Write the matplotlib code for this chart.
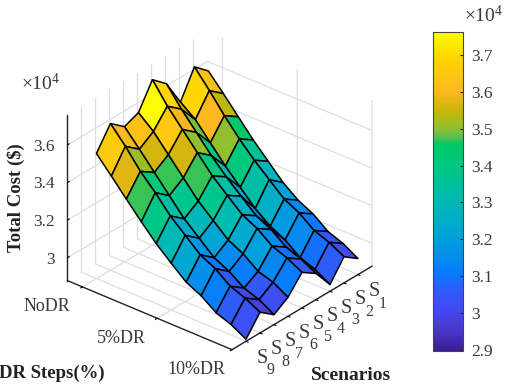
import matplotlib
matplotlib.use('Agg')
import matplotlib.pyplot as plt
import numpy as np
from matplotlib.colors import LinearSegmentedColormap, Normalize
from matplotlib.cm import ScalarMappable
from mpl_toolkits.mplot3d import proj3d

plt.rcParams['font.family'] = ['Liberation Serif', 'DejaVu Serif']
plt.rcParams['mathtext.fontset'] = 'custom'
plt.rcParams['mathtext.rm'] = 'Liberation Serif'
plt.rcParams['mathtext.default'] = 'rm'

scenario_numbers = ['1', '2', '3', '4', '5', '6', '7', '8', '9']
scenario_ticks = [1, 2, 3, 4, 5, 6, 7, 8, 9]
dr_ticks = [1, 6, 11]
dr_labels = ['NoDR', '5%DR', '10%DR']
z_ticks = [3.0, 3.2, 3.4, 3.6]
z_labels = ['3', '3.2', '3.4', '3.6']
cbar_ticks = [2.9, 3.0, 3.1, 3.2, 3.3, 3.4, 3.5, 3.6, 3.7]
cbar_labels = ['2.9', '3', '3.1', '3.2', '3.3', '3.4', '3.5', '3.6', '3.7']

# total cost (x1e4), rows = DR step, columns = S1..S9
cost = np.array([
    [3.627, 3.693, 3.550, 3.692, 3.758, 3.627, 3.597, 3.658, 3.543],
    [3.540, 3.600, 3.490, 3.590, 3.650, 3.560, 3.510, 3.570, 3.456],
    [3.450, 3.500, 3.400, 3.500, 3.560, 3.470, 3.420, 3.470, 3.367],
    [3.360, 3.410, 3.310, 3.410, 3.470, 3.380, 3.330, 3.390, 3.280],
    [3.280, 3.330, 3.230, 3.330, 3.380, 3.290, 3.240, 3.300, 3.197],
    [3.200, 3.260, 3.150, 3.260, 3.310, 3.220, 3.170, 3.230, 3.126],
    [3.140, 3.190, 3.090, 3.190, 3.240, 3.150, 3.100, 3.160, 3.059],
    [3.100, 3.150, 3.050, 3.150, 3.200, 3.110, 3.060, 3.120, 3.020],
    [3.040, 3.090, 2.990, 3.090, 3.140, 3.050, 3.005, 3.060, 2.963],
    [3.010, 3.060, 2.960, 3.060, 3.110, 3.025, 2.977, 3.030, 2.934],
    [2.963, 3.017, 2.914, 3.017, 3.067, 2.979, 2.931, 2.988, 2.889],
])
scenario_idx = np.arange(1, 10)
dr_idx = np.arange(1, 12)

zmin, zmax = 2.878, 3.761
cmin, cmax = 2.897, 3.762

anchors = [(2.897, '#3c1a96'), (2.95, '#4a35c8'), (3.0, '#4646f0'), (3.07, '#2a60fa'),
           (3.1, '#0a78ff'), (3.2, '#00a0dc'), (3.3, '#00b9b4'), (3.4, '#00c882'),
           (3.46, '#00c864'), (3.475, '#50c050'), (3.5, '#90c030'), (3.55, '#c8b40a'),
           (3.6, '#fcb820'), (3.7, '#ffd700'), (3.762, '#ffff00')]
cmap = LinearSegmentedColormap.from_list(
    'cost', [((v - cmin) / (cmax - cmin), c) for v, c in anchors])
norm = Normalize(cmin, cmax)

gray = '#3a3a3a'
fig = plt.figure(figsize=(5.05, 3.84), dpi=100)
ax = fig.add_axes([-0.026, -0.0504, 0.90, 1.08], projection='3d', proj_type='ortho')
ax.view_init(elev=30, azim=40)
ax.set_box_aspect((218, 215, 192), zoom=0.845)

X, Y = np.meshgrid(scenario_idx, dr_idx)
ax.plot_surface(X, Y, cost, facecolors=cmap(norm(cost)), rstride=1, cstride=1,
                shade=False, edgecolor='black', linewidth=1.1, antialiased=True)

ax.set_xlim(0, 10)
ax.set_ylim(0, 11)
ax.set_zlim(zmin, zmax)
ax.set_xticks(scenario_ticks)
ax.set_xticklabels([''] * len(scenario_ticks))
ax.set_yticks(dr_ticks)
ax.set_yticklabels([''] * len(dr_ticks))
ax.set_zticks(z_ticks)
ax.set_zticklabels([''] * len(z_ticks))

for axis in (ax.xaxis, ax.yaxis, ax.zaxis):
    axis.set_pane_color((1, 1, 1, 0))
    axis.pane.set_edgecolor('none')
    axis._axinfo['grid']['color'] = '#dedede'
    axis._axinfo['grid']['linewidth'] = 0.9
    axis._axinfo['tick']['color'] = '#222222'
    axis._axinfo['tick']['inward_factor'] = 0.15
    axis._axinfo['tick']['outward_factor'] = 0.0
    axis.line.set_linewidth(1.0)
    axis.line.set_color('#222222')
ax.zaxis._axinfo['tick']['inward_factor'] = 0.0
ax.zaxis._axinfo['tick']['outward_factor'] = 0.15


def place(labels, points, dx, dy, size, ha='center'):
    # tick labels sit at a fixed pixel offset from the projected tick
    for label, p in zip(labels, points):
        xp, yp, _ = proj3d.proj_transform(*p, ax.get_proj())
        ax.annotate(label, xy=(xp, yp), xytext=(dx, dy), textcoords='offset pixels',
                    fontsize=size, color=gray, ha=ha, va='center')


# the S and its subscript are placed apart, as in the figure
floor_ticks = [(s, 11, zmin) for s in scenario_ticks]
place(['S'] * 9, floor_ticks, 16, -17, 14.5)
place(scenario_numbers, floor_ticks, 25, -29, 11.5)
place(dr_labels, [(10, j, zmin) for j in dr_ticks], -36, -20, 13)
place(z_labels, [(10, 0, z) for z in z_ticks], -13, -2, 12.5, ha='right')

fig.text(16 / 505, 1 - 198 / 384, 'Total Cost ($)', rotation=90, fontsize=13.5, fontweight='bold',
         color='#222222', ha='center', va='center')
fig.text(-1 / 505, 1 - 373 / 384, 'DR Steps(%)', fontsize=13.5, fontweight='bold', color='#222222',
         ha='left', va='center')
fig.text(351 / 505, 1 - 375 / 384, 'Scenarios', fontsize=14, fontweight='bold', color='#222222',
         ha='center', va='center')
fig.text(41 / 505, 1 - 83 / 384, r'$\times 10^{4}$', fontsize=14, color=gray, ha='center', va='center')
fig.text(484 / 505, 1 - 15 / 384, r'$\times 10^{4}$', fontsize=14, color=gray, ha='center', va='center')

cax = fig.add_axes([433 / 505, 33 / 384, 30 / 505, 319 / 384])
sm = ScalarMappable(norm=norm, cmap=cmap)
cb = fig.colorbar(sm, cax=cax)
cb.set_ticks(cbar_ticks)
cb.set_ticklabels(cbar_labels)
cb.ax.tick_params(direction='in', length=2.5, width=0.8, labelsize=12.5, labelcolor=gray, color='#222222', pad=6)
cb.outline.set_edgecolor('#444444')
cb.outline.set_linewidth(0.8)

fig.savefig('out.png', dpi=100)
